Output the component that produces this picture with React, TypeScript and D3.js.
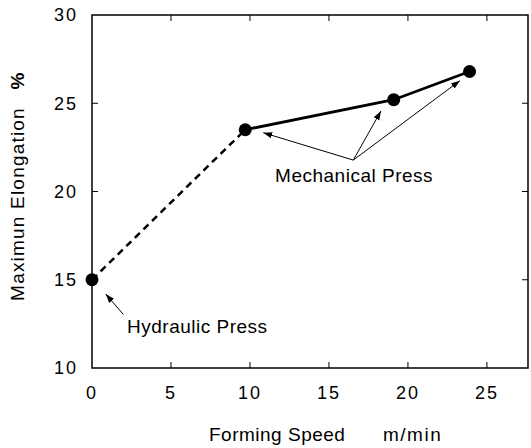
import * as d3 from "d3";

// measured values
const speed = [0, 9.7, 19.1, 23.9];
const elongation = [15.0, 23.5, 25.2, 26.8];
const xTicks = [0, 5, 10, 15, 20, 25];
const yTicks = [10, 15, 20, 25, 30];

// annotation positions in data units
const hydraulicLabel = { x: 6.67, y: 12.0, text: "Hydraulic Press" };
const hydraulicArrow = [{ from: [1.98, 13.04], to: [0.87, 14.19] }];
const mechLabel = { x: 16.59, y: 20.56, text: "Mechanical Press" };
const mechArrows = [
  { from: [16.54, 21.78], to: [10.84, 23.33] },
  { from: [16.54, 21.78], to: [18.29, 24.56] },
  { from: [16.54, 21.78], to: [23.29, 26.28] },
];

const W = 531;
const H = 448;
const margin = { top: 15, right: 3, bottom: 80, left: 92 };
const FONT = "'Liberation Sans', Arial, Helvetica, sans-serif";

export default function App() {
  const x = d3.scaleLinear().domain([0, 27.6]).range([margin.left, W - margin.right]);
  const y = d3.scaleLinear().domain([10, 30]).range([H - margin.bottom, margin.top]);
  const [x0, x1] = x.range();
  const [y0, y1] = y.range();

  const pts = speed.map((s, i) => [x(s), y(elongation[i])] as [number, number]);
  const line = d3.line();

  const arrows = [...hydraulicArrow, ...mechArrows];

  return (
    <svg width={W} height={H} style={{ position: "absolute", left: 0, top: 0 }} fontFamily={FONT}>
      <defs>
        <marker id="ah" viewBox="0 0 10 10" refX="10" refY="5" markerWidth="9" markerHeight="9"
          markerUnits="userSpaceOnUse" orient="auto">
          <path d="M0,1.5 L10,5 L0,8.5 Z" fill="#000" />
        </marker>
      </defs>
      <rect width={W} height={H} fill="#fff" />

      {/* frame */}
      <rect x={x0} y={y1} width={x1 - x0} height={y0 - y1} fill="none" stroke="#000" strokeWidth={1.5} />

      {/* inner ticks on all sides */}
      {xTicks.filter(t => t > 0).map(t => (
        <g key={"xt" + t} stroke="#000" strokeWidth={1}>
          <line x1={x(t)} x2={x(t)} y1={y0} y2={y0 - 6} />
          <line x1={x(t)} x2={x(t)} y1={y1} y2={y1 + 6} />
        </g>
      ))}
      {yTicks.filter(t => t > 10 && t < 30).map(t => (
        <g key={"yt" + t} stroke="#000" strokeWidth={1}>
          <line x1={x0} x2={x0 + 6} y1={y(t)} y2={y(t)} />
          <line x1={x1} x2={x1 - 6} y1={y(t)} y2={y(t)} />
        </g>
      ))}

      {/* tick labels */}
      {xTicks.map(t => (
        <text key={"xl" + t} x={x(t)} y={y0 + 31} textAnchor="middle" fontSize={18} letterSpacing={2}>
          {t}
        </text>
      ))}
      {yTicks.map(t => (
        <text key={"yl" + t} x={x0 - 14} y={y(t)} dy="0.36em" textAnchor="end" fontSize={18} letterSpacing={2}>
          {t}
        </text>
      ))}

      {/* axis titles */}
      <text x={209} y={y0 + 73} fontSize={19} letterSpacing={0.5}>Forming Speed</text>
      <text x={383} y={y0 + 73} fontSize={19} letterSpacing={1.5}>m/min</text>
      <text transform={`translate(24,204) rotate(-90)`} textAnchor="middle" fontSize={19} letterSpacing={1.2}>
        Maximun Elongation
      </text>
      <text transform={`translate(24,81) rotate(-90)`} textAnchor="middle" fontSize={19} fontWeight="bold">%</text>

      {/* data lines */}
      <path d={line(pts.slice(0, 2)) || ""} fill="none" stroke="#000" strokeWidth={2.5} strokeDasharray="7,5" />
      <path d={line(pts.slice(1)) || ""} fill="none" stroke="#000" strokeWidth={2.8} />
      {pts.map((p, i) => (
        <circle key={"p" + i} cx={p[0]} cy={p[1]} r={6.5} fill="#000" />
      ))}

      {/* annotations */}
      {arrows.map((a, i) => (
        <line key={"a" + i} x1={x(a.from[0])} y1={y(a.from[1])} x2={x(a.to[0])} y2={y(a.to[1])}
          stroke="#000" strokeWidth={1} markerEnd="url(#ah)" />
      ))}
      <text x={x(hydraulicLabel.x)} y={y(hydraulicLabel.y)} textAnchor="middle" fontSize={19} letterSpacing={0.5}>
        {hydraulicLabel.text}
      </text>
      <text x={x(mechLabel.x)} y={y(mechLabel.y)} textAnchor="middle" fontSize={19} letterSpacing={0.5}>
        {mechLabel.text}
      </text>
    </svg>
  );
}
